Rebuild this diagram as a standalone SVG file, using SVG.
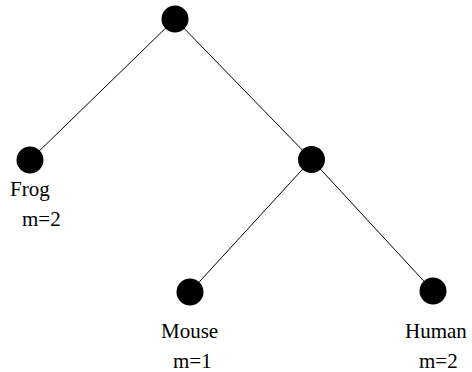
<svg xmlns="http://www.w3.org/2000/svg" width="472" height="372" viewBox="0 0 472 372">
<style>
.edge{stroke:#000;stroke-width:1;fill:none}
.node{fill:#000}
.lbl{font-family:"Liberation Serif","Times New Roman",serif;font-size:21px;fill:#000}
</style>
<rect width="472" height="372" fill="#fff"/>
<g id="connectors">
<line class="edge" x1="175" y1="19" x2="30" y2="160"/>
<line class="edge" x1="175" y1="19" x2="311.5" y2="159.5"/>
<line class="edge" x1="311.5" y1="159.5" x2="190" y2="292"/>
<line class="edge" x1="311.5" y1="159.5" x2="433" y2="291"/>
</g>
<g id="root"><circle class="node" cx="175" cy="19" r="13.5"/></g>
<g id="frog"><circle class="node" cx="30" cy="160" r="13.5"/>
<text class="lbl" x="10" y="196">Frog</text>
<text class="lbl" x="22" y="226">m=2</text></g>
<g id="internal"><circle class="node" cx="311.5" cy="159.5" r="13.5"/></g>
<g id="mouse"><circle class="node" cx="190" cy="292" r="13.5"/>
<text class="lbl" x="161" y="338">Mouse</text>
<text class="lbl" x="173" y="368">m=1</text></g>
<g id="human"><circle class="node" cx="433" cy="291" r="13.5"/>
<text class="lbl" x="405" y="338">Human</text>
<text class="lbl" x="419" y="368">m=2</text></g>
</svg>
